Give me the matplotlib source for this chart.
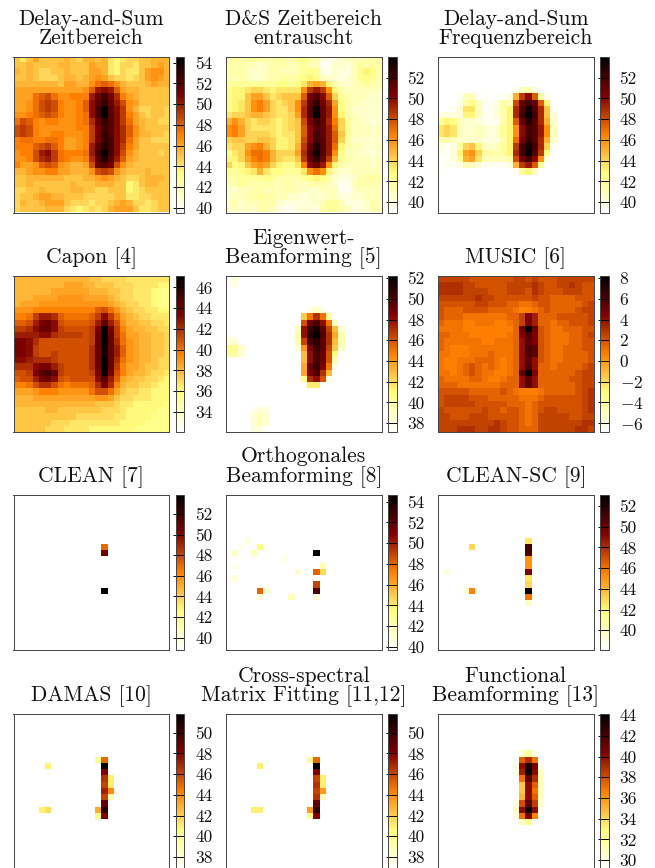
import numpy as np
import matplotlib
matplotlib.use("Agg")
import matplotlib.pyplot as plt

plt.rcParams['font.family'] = ['cmr10', 'DejaVu Serif']
plt.rcParams['mathtext.fontset'] = 'cm'
plt.rcParams['axes.unicode_minus'] = False
plt.rcParams['axes.formatter.use_mathtext'] = True

N_GRID = 25

titles = [
    "Delay-and-Sum\nZeitbereich", "D&S Zeitbereich\nentrauscht", "Delay-and-Sum\nFrequenzbereich",
    "Capon [4]", "Eigenwert-\nBeamforming [5]", "MUSIC [6]",
    "CLEAN [7]", "Orthogonales\nBeamforming [8]", "CLEAN-SC [9]",
    "DAMAS [10]", "Cross-spectral\nMatrix Fitting [11,12]", "Functional\nBeamforming [13]",
]

# colour range of each panel in dB
vmins = [39.55, 39.0, 39.0, 32.1, 37.2, -6.8, 38.8, 39.7, 38.1, 36.8, 36.8, 29.1]
vmaxs = [54.55, 54.0, 54.0, 47.1, 52.2, 8.2, 53.9, 54.7, 53.1, 51.8, 51.8, 44.1]

ticks = [
    [40, 42, 44, 46, 48, 50, 52, 54], [40, 42, 44, 46, 48, 50, 52], [40, 42, 44, 46, 48, 50, 52],
    [34, 36, 38, 40, 42, 44, 46], [38, 40, 42, 44, 46, 48, 50, 52], [-6, -4, -2, 0, 2, 4, 6, 8],
    [40, 42, 44, 46, 48, 50, 52], [40, 42, 44, 46, 48, 50, 52, 54], [40, 42, 44, 46, 48, 50, 52],
    [38, 40, 42, 44, 46, 48, 50], [38, 40, 42, 44, 46, 48, 50], [30, 32, 34, 36, 38, 40, 42, 44],
]

das_time = [
    [45, 44, 45, 46, 45, 45, 45, 45, 45.5, 45, 44.5, 45.5, 45.5, 45, 45.5, 44, 43.5, 44, 44.5, 44.5, 45, 45, 45.5, 45.5, 45.5],
    [45, 45, 45.5, 45, 45, 45, 45, 45.5, 45.5, 45, 45, 45, 46, 45.5, 45.5, 44, 43.5, 44.5, 44.5, 44, 45, 45, 45.5, 46, 45.5],
    [45.5, 45, 45.5, 45, 44.5, 44.5, 45, 45, 45.5, 45, 45, 45, 46, 46, 45.5, 44, 43.5, 44.5, 44, 44, 45, 46, 46.5, 46.5, 45.5],
    [45, 45, 45.5, 45, 44.5, 44.5, 44.5, 45, 45.5, 45.5, 45, 45.5, 46, 46.5, 46, 45, 44.5, 44.5, 44, 44.5, 45, 46, 46.5, 46, 45.5],
    [45.5, 45.5, 45.5, 45.5, 45.5, 45.5, 45.5, 45, 46, 46, 45.5, 45.5, 46.5, 47.5, 48, 47.5, 46.5, 45.5, 45, 45, 45, 45.5, 46, 45.5, 45.5],
    [46, 46, 46, 46, 46, 46, 46, 46, 46, 46, 46, 46.5, 48, 50, 50.5, 50, 48, 46, 45.5, 45.5, 45, 45, 45, 45, 45],
    [46, 46, 46, 47.5, 48, 48.5, 47.5, 46.5, 46.5, 47, 47, 47, 50, 51.5, 52.5, 51, 49.5, 47, 46, 45.5, 45, 45, 45, 45, 45],
    [46, 46, 46.5, 47.5, 48.5, 49, 48.5, 47, 46.5, 46.5, 47, 48, 50.5, 52, 53, 51.5, 50, 48.5, 46.5, 46, 45, 45, 45, 45, 45],
    [46, 46, 46.5, 47.5, 48.5, 49, 48.5, 47, 46.5, 46.5, 47, 48, 50.5, 52.5, 54.5, 52, 50.5, 49, 46.5, 45.5, 44.5, 44.5, 45, 45, 44.5],
    [46.5, 46.5, 47, 47.5, 48, 48.5, 48, 47, 46.5, 46.5, 47, 47.5, 50.5, 52.5, 54.5, 52, 50.5, 49, 47, 46, 45, 44.5, 45, 45, 44.5],
    [47.5, 48.5, 48, 47, 46.5, 47, 47, 46.5, 46.5, 46.5, 47, 47.5, 49.5, 51.5, 53, 52, 50.5, 49, 47.5, 46, 45.5, 45, 45, 44.5, 44.5],
    [48.5, 49, 48.5, 47, 46.5, 46.5, 46.5, 46.5, 46.5, 46.5, 47, 47, 49, 51, 52.5, 52, 50.5, 49.5, 48, 46.5, 45.5, 45, 45, 45, 45],
    [48.5, 49, 48.5, 47, 46.5, 46.5, 47, 47, 46.5, 46.5, 46.5, 47, 49, 51, 53, 52, 50.5, 49.5, 48, 46.5, 45.5, 45.5, 45, 45, 44.5],
    [47, 47.5, 47.5, 47, 47, 47.5, 47.5, 47, 46, 46, 46.5, 47, 49, 51, 53, 52.5, 50.5, 49.5, 47.5, 46, 45, 45, 44.5, 44.5, 44.5],
    [47, 47, 47, 48, 48.5, 49, 48, 47, 46, 46, 46.5, 47, 50, 52, 53.5, 52.5, 50.5, 49, 47, 46, 45, 45, 45, 45, 45],
    [46.5, 47, 47, 48.5, 50, 50.5, 49, 47.5, 47, 47, 47, 47.5, 50, 52.5, 54.5, 52.5, 50.5, 48.5, 46.5, 45.5, 45, 45, 45, 44.5, 45],
    [46.5, 46.5, 47, 48.5, 49.5, 50, 49, 47.5, 47, 46.5, 46.5, 47, 49.5, 52, 53.5, 52, 50, 48, 46, 45.5, 45, 45, 45, 45, 45],
    [47, 46, 46, 46.5, 48, 48.5, 48, 46.5, 46, 45.5, 45.5, 46, 48.5, 51.5, 52, 51, 48.5, 46.5, 45.5, 45, 45, 45, 45, 45, 45],
    [45.5, 45.5, 46, 46.5, 46.5, 47, 47, 46, 46, 45.5, 45.5, 45.5, 46.5, 48.5, 49, 48.5, 46.5, 45.5, 45, 45, 45, 45.5, 45, 45, 45],
    [45, 45, 45.5, 45.5, 45.5, 45.5, 45.5, 45.5, 45, 45, 45, 45.5, 45.5, 46, 46.5, 46, 45.5, 45, 44.5, 44.5, 45, 45.5, 45.5, 45.5, 45],
    [45, 45, 45.5, 45, 45, 45, 45, 45, 45, 45.5, 45, 45, 45, 45.5, 45.5, 45.5, 45, 45, 43.5, 44, 45, 45.5, 45.5, 45, 45],
    [44.5, 44.5, 45, 45, 45.5, 45, 45, 45, 45, 45.5, 45.5, 45, 45, 44.5, 44.5, 45, 45, 45, 43.5, 44, 44.5, 45, 45, 45, 45],
    [44.5, 45, 45, 45.5, 46, 46, 45.5, 45.5, 45, 45, 45, 44.5, 44.5, 44.5, 44.5, 44.5, 45, 45, 44, 44, 44.5, 44.5, 45, 45, 45],
    [44.5, 45.5, 45, 45, 45.5, 46, 46, 46, 45, 44.5, 44.5, 44.5, 44, 44.5, 44.5, 45, 45.5, 46, 45.5, 44.5, 44.5, 44, 44.5, 45, 45],
    [44.5, 45, 45, 45, 45, 45.5, 45.5, 45.5, 44.5, 44, 43.5, 44, 44.5, 44, 44.5, 45.5, 46, 46, 46, 45, 44, 44, 44.5, 45, 45],
]

das_denoised = [
    [41, 42, 41.5, 42, 42, 41.5, 41.5, 41.5, 42, 41.5, 41.5, 42, 42.5, 41.5, 41, 40, 39.5, 40, 40.5, 41, 41, 41, 41.5, 41.5, 41.5],
    [41.5, 41.5, 41.5, 41, 41, 40.5, 41, 41.5, 41.5, 41.5, 41, 41.5, 42, 41.5, 41, 39.5, 39.5, 40.5, 40.5, 40, 41, 42, 41.5, 42, 41.5],
    [41.5, 41.5, 41.5, 41, 40.5, 40.5, 41, 41.5, 41.5, 41, 41, 41.5, 42, 42.5, 42, 40, 39.5, 40.5, 40, 40, 41, 42, 43, 42.5, 41.5],
    [41.5, 41, 41.5, 41, 40.5, 40.5, 41, 41.5, 41.5, 42, 41.5, 42, 42.5, 43, 42.5, 41, 40.5, 40.5, 40, 40.5, 41, 42, 42.5, 42, 41.5],
    [42, 42, 42, 42, 42, 42, 42, 42, 42.5, 42.5, 42, 42.5, 43.5, 45, 45.5, 45, 43, 41.5, 40.5, 40.5, 41, 41.5, 42, 41.5, 41.5],
    [42.5, 43, 43, 43.5, 44, 44, 43.5, 43, 43.5, 43.5, 43.5, 43.5, 46, 48.5, 49.5, 48.5, 46, 43, 41.5, 41, 41, 41, 41, 41, 41],
    [42.5, 43, 43, 44.5, 45.5, 45.5, 44.5, 43.5, 44, 44.5, 44.5, 44.5, 47.5, 50.5, 51.5, 50, 47.5, 44, 42, 41.5, 41, 41, 41, 40.5, 40.5],
    [42.5, 43, 43.5, 44.5, 46, 46.5, 45.5, 44, 43.5, 44, 44.5, 46, 48.5, 51, 52.5, 50.5, 49, 45.5, 42.5, 41.5, 41, 41, 40.5, 40.5, 40.5],
    [42.5, 43, 43.5, 44.5, 46, 46.5, 45.5, 44, 43.5, 43.5, 44.5, 46, 49, 51.5, 53.5, 51, 49.5, 46, 42.5, 41.5, 40.5, 40.5, 40.5, 40.5, 40.5],
    [43.5, 44, 44, 44.5, 45, 45, 44.5, 44, 43.5, 43.5, 44, 45.5, 49, 51.5, 54, 51, 49.5, 46, 43, 41.5, 41, 40.5, 40.5, 40.5, 40.5],
    [45, 46, 45, 44, 43.5, 44, 44, 43.5, 43, 43.5, 44, 44.5, 48, 50.5, 52, 51, 49, 46.5, 44, 42, 41, 41, 40.5, 40, 40.5],
    [46, 46.5, 45.5, 44, 43.5, 43.5, 43.5, 43.5, 43, 43.5, 44, 44.5, 47.5, 50, 51.5, 51, 49.5, 47, 44, 42, 41, 41, 41, 40.5, 41],
    [46, 46.5, 45.5, 44, 44, 44, 44, 43.5, 43, 43.5, 43.5, 44.5, 47.5, 50, 52, 51, 49.5, 47.5, 44.5, 42, 41, 41, 41, 40.5, 41],
    [44, 44.5, 44.5, 44, 44, 44.5, 44.5, 44, 43, 43, 43.5, 44.5, 48, 50, 52, 51.5, 49.5, 47.5, 44, 41.5, 40.5, 40.5, 40.5, 40.5, 40.5],
    [43.5, 44, 44, 45.5, 46, 46.5, 45, 44, 43, 43, 43.5, 45, 48.5, 51, 53, 51.5, 49.5, 47, 43, 41.5, 41, 41, 40.5, 40.5, 41],
    [42.5, 43.5, 44, 46, 47, 47, 46.5, 45, 44, 44, 44, 45.5, 49, 51.5, 53.5, 51.5, 49.5, 46, 42.5, 41, 41, 40.5, 40.5, 40, 40.5],
    [43, 43, 44, 45.5, 46.5, 47, 46.5, 45, 44, 43.5, 43.5, 44.5, 48.5, 51, 52.5, 51, 48.5, 45, 42, 41.5, 41, 41, 41, 40.5, 41],
    [44, 42.5, 43, 44.5, 45.5, 46, 45.5, 44, 43, 42.5, 42.5, 43.5, 46.5, 50, 51, 49.5, 46, 43, 41.5, 41, 41, 41, 41, 40.5, 41],
    [42, 42, 42.5, 43, 43.5, 45, 43.5, 42.5, 42.5, 42, 42, 42, 43.5, 46, 47, 46, 43, 41.5, 40.5, 40.5, 41, 41, 41, 41, 41],
    [41.5, 41.5, 42, 42, 42, 42, 42.5, 42, 41.5, 41.5, 41.5, 41.5, 42, 42.5, 43, 42.5, 41.5, 40.5, 40, 40, 40.5, 41.5, 41.5, 42, 41.5],
    [41, 41.5, 42, 41.5, 41.5, 41.5, 41.5, 41.5, 41, 41.5, 41.5, 41, 41, 41.5, 41.5, 41.5, 41, 40.5, 39.5, 39.5, 41, 41.5, 41.5, 41.5, 41],
    [40.5, 40.5, 41, 41, 41.5, 41.5, 41, 41.5, 41, 41.5, 41.5, 41, 41, 40.5, 40.5, 41, 41, 41, 39.5, 39.5, 40.5, 41, 41, 41, 41],
    [40.5, 41, 41, 41.5, 41.5, 42, 41.5, 41.5, 41, 41, 40.5, 40.5, 40, 40.5, 40.5, 40.5, 41, 41, 40, 40, 40.5, 40.5, 41, 41, 41],
    [40.5, 41.5, 40.5, 41, 41, 41.5, 41.5, 41.5, 40.5, 40, 40, 40, 40, 40.5, 40.5, 41, 42, 42, 41, 40, 40, 40, 40.5, 41.5, 41],
    [40.5, 41, 40.5, 41, 40.5, 41.5, 41.5, 41, 40, 39.5, 39.5, 40, 40.5, 40, 40, 41.5, 42, 42, 41.5, 41, 40, 40, 40.5, 41.5, 41],
]

# rows 5-18, columns 0-18, 0 means below the colour range
das_freq_block = [
    [0, 0, 0, 0, 0, 0, 0, 0, 0, 0, 0, 0, 39.5, 41, 41.5, 40, 0, 0, 0],
    [0, 0, 0, 39.5, 41, 41, 39.5, 0, 0, 39.2, 39.5, 40, 45, 48.5, 50, 47.5, 42, 39.5, 0],
    [0, 0, 0, 40, 41.5, 42.5, 41, 39.5, 39.2, 40, 41.5, 41, 48, 51, 52, 51, 47.5, 43, 0],
    [0, 0, 39.5, 40.5, 43.5, 43.5, 41, 39.5, 39.5, 40, 41.5, 43, 49, 51.5, 53.5, 51.5, 49, 44.5, 39.5],
    [40, 40, 40, 40, 43, 43, 41, 39.5, 39.3, 40, 41.5, 43, 49, 52, 54, 52, 49, 44.5, 40],
    [42, 43, 42.5, 41, 40.5, 40.5, 40, 39.5, 39.3, 39.5, 41.5, 43, 47.5, 51, 53, 51.5, 49, 45, 40.5],
    [43.5, 44, 43.5, 41, 40.5, 40.5, 41, 40.5, 40, 40.5, 42, 43, 46, 50, 52, 51.5, 49.5, 46, 41],
    [43.5, 44, 43.5, 41, 40.5, 40.5, 41, 40.5, 40, 40.5, 42, 43, 46, 50, 52, 51.5, 49.5, 46, 41],
    [41.5, 41.5, 41, 40.5, 40.5, 40.5, 40.5, 40, 40, 40, 41.5, 43, 47, 50.5, 52.5, 51.5, 49, 45, 40.5],
    [40, 39.5, 40, 42, 44, 44.5, 43, 41, 40.5, 41, 42, 43, 48.5, 52, 53.5, 52, 49, 44, 39.5],
    [39.5, 39.3, 40, 43, 45.5, 46, 44, 42, 41.5, 41.5, 42, 43, 49, 52, 54, 51.5, 48.5, 42.5, 0],
    [0, 39.5, 40, 42, 45, 45.5, 43.5, 41, 41, 41, 41, 41.5, 48, 50.5, 52, 50, 46, 40, 0],
    [39.2, 39.5, 39.5, 39.8, 41, 41, 40, 39.5, 39.5, 39.5, 39.5, 40, 45, 48.5, 49.5, 47.5, 42, 0, 0],
    [39.2, 0, 0, 0, 0, 0, 0, 0, 0, 0, 0, 0, 39.5, 42, 43, 41, 0, 0, 0],
]

capon = [
    [38, 38, 38, 38, 38, 38, 38, 38, 38, 38, 38, 38, 37.5, 37.5, 37, 37, 37, 37, 36.5, 36.5, 36.5, 36.5, 36.5, 36.5, 36.5],
    [38, 38, 38, 38, 38, 38, 38, 38, 38.5, 38.5, 38.5, 38, 38, 37.5, 37.5, 37.5, 37, 37, 37, 36.5, 36.5, 36.5, 36.5, 36, 36],
    [38, 38, 38, 38, 38, 38, 38.5, 38.5, 38.5, 38.5, 38.5, 38.5, 38, 38, 38, 37.5, 37.5, 37, 37, 36.5, 36.5, 36.5, 36, 35.5, 35.5],
    [38, 38, 38, 38.5, 38.5, 38.5, 38.5, 39, 39, 39, 39, 38.5, 38.5, 38.5, 38.5, 38, 37.5, 37, 37, 36.5, 36.5, 36.5, 36, 35.5, 35.5],
    [38, 38.5, 38.5, 38.5, 39, 39, 39, 39, 39, 39, 39, 39, 39, 39, 39, 38.5, 38, 37.5, 37, 37, 36.5, 36.5, 36, 35.5, 35.5],
    [39, 39, 39, 39.5, 39.5, 39.5, 39.5, 39.5, 39.5, 39.5, 39.5, 39.5, 39.5, 40.5, 41, 40, 39, 38, 37.5, 37, 37, 36.5, 36.5, 36, 36],
    [39.5, 39.5, 40, 41.5, 42.5, 42.5, 42, 40.5, 40, 40, 40, 40, 40.5, 41.5, 43, 41.5, 40, 38.5, 38, 37.5, 37, 37, 36.5, 36.5, 36.5],
    [40.5, 40.5, 41, 42.5, 43.5, 44, 43, 41, 40.5, 40.5, 40.5, 40.5, 41, 42.5, 44.5, 42.5, 41, 39, 38, 38, 37.5, 37.5, 37, 37, 36.5],
    [41.5, 41.5, 42, 43, 44, 44, 43, 41.5, 41, 41, 41, 41, 41.5, 43.5, 47, 43.5, 41.5, 39.5, 38.5, 38, 38, 37.5, 37.5, 37, 37],
    [42.5, 42.5, 42.5, 42.5, 43, 43, 42, 41.5, 41.5, 41.5, 41.5, 41, 41.5, 44, 47, 44, 41.5, 40, 38.5, 38.5, 38, 38, 37.5, 37.5, 37],
    [43.5, 43.5, 43, 42, 41, 41, 41, 41, 41, 41, 41, 41, 41.5, 44, 47, 44, 42, 40, 39, 38.5, 38, 38, 37.5, 37.5, 37],
    [43.5, 43.5, 43, 41.5, 41, 41, 41, 41, 41, 41, 41, 41, 42, 44, 46.5, 44, 42.5, 40.5, 39, 38.5, 38, 38, 37.5, 37.5, 37],
    [43.5, 43.5, 43, 41.5, 41, 41, 41.5, 41, 41, 41, 41, 41, 42, 44, 46.5, 44, 42.5, 40.5, 39, 38.5, 38, 38, 37.5, 37.5, 37],
    [43, 43, 42.5, 42, 42, 42, 41.5, 41, 41, 41, 41, 41, 42, 44, 47, 44, 42, 40, 39, 38.5, 38, 38, 37.5, 37, 37],
    [42, 42, 42, 43, 43.5, 43.5, 42.5, 41.5, 41, 41, 41, 41, 42, 44, 47, 44, 41.5, 39.5, 38.5, 38.5, 38, 37.5, 37.5, 37, 37],
    [41, 41, 41.5, 43.5, 44.5, 45, 44, 41.5, 41, 41, 41, 41, 41.5, 43.5, 47, 43.5, 41, 39.5, 38.5, 38, 38, 37.5, 37, 37, 36.5],
    [40.5, 41, 41, 42.5, 43.5, 44, 43, 41, 40.5, 41, 41, 41, 41, 43, 44.5, 42.5, 40.5, 38.5, 38, 37.5, 37.5, 37, 37, 36.5, 36],
    [39.5, 39.5, 40, 41, 42, 42, 41, 40, 39.5, 40, 40, 40, 40.5, 42, 43.5, 42, 39.5, 38, 37.5, 37.5, 37, 37, 36.5, 36, 36],
    [38.5, 38.5, 38.5, 39, 39.5, 39.5, 39.5, 39, 39, 39, 39, 39, 40, 41, 41, 40, 38.5, 37.5, 37, 37, 36.5, 36.5, 36, 36, 36],
    [38, 38, 38, 38.5, 38.5, 38.5, 38.5, 38.5, 38.5, 38.5, 38.5, 38.5, 38.5, 39, 39, 38.5, 37.5, 37, 37, 36.5, 36.5, 36.5, 36, 36, 36],
    [38, 38, 38, 38, 38, 38, 38, 38, 38, 38, 38, 38, 38, 37.5, 37.5, 37.5, 37, 36.5, 36.5, 36, 36, 36, 36, 36, 35.5],
    [37.5, 37.5, 37.5, 37.5, 37.5, 38, 38, 37.5, 37.5, 37.5, 37.5, 37.5, 37.5, 37.5, 37, 37, 37, 36.5, 36, 36, 36, 36, 36, 35.5, 35.5],
    [37.5, 37.5, 37.5, 37.5, 37.5, 37.5, 37.5, 37.5, 37.5, 37.5, 37, 37, 37, 37, 37, 37, 36.5, 36.5, 36, 36, 36, 36, 35.5, 35.5, 35.5],
    [37.5, 37.5, 37.5, 37.5, 37.5, 37.5, 37, 37, 37, 36.5, 36.5, 36.5, 36.5, 36.5, 36.5, 36.5, 36.5, 36, 36, 36, 36, 35.5, 35.5, 35.5, 35.5],
    [37.5, 37.5, 37.5, 37.5, 37.5, 37, 37, 37, 36.5, 36.5, 36.5, 36.5, 36, 36, 36, 36, 36, 36, 36, 35.5, 35.5, 35.5, 35.5, 35.5, 35.5],
]

# rows 5-17, columns 11-18
eigen_block = [
    [0, 0, 38, 39, 38, 0, 0, 0],
    [0, 42.5, 45, 47, 45, 40, 0, 0],
    [0, 46, 49, 50, 48, 45, 39, 0],
    [39, 48, 50.5, 51.5, 49.5, 46.5, 43, 38.5],
    [40, 48, 51, 52.2, 50, 47, 43.5, 39.5],
    [39.5, 46.5, 50, 51, 49.5, 47, 43, 39.5],
    [38.5, 44, 48.5, 50.5, 49.5, 46.5, 42.5, 39],
    [0, 43, 48, 50, 49, 46, 41, 0],
    [0, 43, 48, 50, 49, 46, 39.5, 0],
    [0, 43.5, 49, 50.5, 48.5, 45, 38, 0],
    [0, 43.5, 48.5, 50, 47, 43, 0, 0],
    [0, 40.5, 47, 48, 46, 38, 0, 0],
    [0, 0, 41.5, 41.5, 0, 0, 0, 0],
]
eigen_rows = [0, 1, 10, 10, 11, 11, 11, 12, 12, 12, 21, 21, 21, 22, 22, 22, 22, 23, 23, 23, 24, 24]
eigen_cols = [1, 1, 0, 1, 0, 1, 2, 0, 1, 2, 4, 5, 6, 3, 4, 5, 6, 4, 5, 6, 4, 5]
eigen_vals = [38.5, 38, 38.3, 38.5, 40.5, 40.5, 38.5, 40, 40, 38.5, 37.8, 38.5, 38, 37.5, 38.5, 39.2, 38.5, 38.7, 39.2, 38.6, 38.3, 38.3]

music = [
    [2.5, 2.5, 2.5, 2.5, 2.5, 2, 2, 2, 2, 2, 2, 2, 2.5, 2.5, 2, 2.5, 2, 2, 2, 2.5, 2.5, 2.5, 2.5, 2.5, 2.5],
    [3, 3, 3, 3, 2.5, 2.5, 2, 2, 2, 2, 2, 2.5, 2.5, 2.5, 2.5, 3, 2.5, 2, 2, 2.5, 2.5, 3, 2.5, 2, 2],
    [3, 3, 3, 3, 2.5, 2.5, 2.5, 2.5, 2, 2, 2, 2.5, 2.5, 2.5, 2, 3, 2.5, 2, 2, 2, 2.5, 2.5, 2.5, 2, 2],
    [2.5, 2.5, 2.5, 2.5, 2.5, 2.5, 3, 2.5, 2.5, 2, 2, 2, 2, 2, 2, 2.5, 2, 2, 1.5, 1.5, 1.5, 1.5, 2, 2, 2],
    [2, 2, 2, 2, 2, 2, 2.5, 2.5, 2, 2, 2, 1.5, 1.5, 1, 1, 1.5, 2, 2, 1.5, 1.5, 1.5, 1.5, 1.5, 2, 2.5],
    [2, 1.5, 1.5, 1.5, 2, 2, 2, 2, 1.5, 1.5, 1.5, 1.5, 1, 0.5, 0.7, 1, 1.5, 2, 1.5, 1.5, 1.5, 1.5, 2, 2.5, 2.5],
    [2, 1.5, 1.5, 1.5, 1, 1, 1, 1, 1, 1, 1, 1.5, 1.5, 2.5, 4.5, 3.5, 1.5, 1.5, 1.5, 2, 2, 2, 2, 2, 2.5],
    [1.5, 1, 1, 1, 0.7, 0.7, 1, 1, 1, 0.7, 0.7, 1, 1.5, 2.5, 4.5, 3.5, 1.5, 1.5, 1, 1.5, 1.5, 2, 2, 2, 2.5],
    [1, 1, 1, 1, 0.7, 0.7, 0.7, 0.7, 0.7, 0.7, 0.7, 0.7, 1.5, 5, 8, 5, 2, 1.5, 1, 1, 1.5, 1.5, 1.5, 2, 2],
    [1.5, 1.5, 1, 1, 1, 0.7, 0.7, 0.7, 0.7, 0.7, 0.7, 1, 1.5, 4.5, 6, 4.5, 2, 1.5, 1, 1, 1, 1.5, 1.5, 2, 2.5],
    [1.5, 1, 1, 1, 1, 1, 1, 0.7, 0.7, 1, 1, 1, 1.5, 4, 5.5, 4.5, 2, 1.5, 1, 1, 1, 1.5, 1.5, 2, 2],
    [1.5, 1, 0.7, 0.7, 0.7, 1, 1, 1, 1, 1, 1, 1, 1.5, 4, 6, 5.5, 2, 1.5, 1, 1, 1.5, 1.5, 1.5, 2, 2],
    [1, 1, 0.7, 0.7, 0.7, 1, 1, 1, 1.5, 1, 1, 1, 1.5, 4, 6, 5.5, 2, 1.5, 1, 1, 1.5, 1.5, 1.5, 1.5, 2],
    [1, 0.7, 0.7, 1, 1, 1, 1.5, 1.5, 1.5, 1, 0.7, 1, 1.5, 4, 5.5, 4, 2, 1.5, 1, 1, 1.5, 1.5, 1.5, 1.5, 2],
    [1, 0.7, 0.7, 1, 1.5, 2, 1.5, 1, 1.5, 1, 0.7, 1, 1.5, 4, 6, 4, 1.5, 1.5, 1, 1.5, 1.5, 1.5, 1.5, 2, 2.5],
    [1, 1, 0.7, 1, 1.5, 2, 1.5, 1, 1, 0.7, 0.7, 1, 1.5, 5.5, 8, 4.5, 1.5, 1.5, 1.5, 1.5, 1.5, 1.5, 2, 2.5, 2.5],
    [1.5, 1, 1, 1, 1, 1.5, 1.5, 1, 0.7, 0.7, 1, 1.5, 1.5, 4, 5.5, 4, 1.5, 1.5, 1.5, 1.5, 1.5, 2, 2, 2.5, 2.5],
    [1.5, 1.5, 1.5, 1, 1, 1, 1, 1, 1, 1, 1.5, 1.5, 1.5, 4, 5.5, 4, 1.5, 1.5, 1.5, 1.5, 1.5, 1.5, 2, 2.5, 2.5],
    [2, 2, 2, 2, 2, 1.5, 1.5, 1.5, 1.5, 1.5, 2, 1.5, 1, 0.7, 0.7, 0.7, 1, 1.5, 1.5, 1.5, 1.5, 1.5, 2, 2.5, 3],
    [2, 2.5, 2.5, 2.5, 2.5, 2, 2, 2, 1.5, 1.5, 1.5, 1.5, 1.5, 1, 1, 1, 1.5, 2, 2, 2, 2, 2, 2, 2.5, 3],
    [2, 2.5, 2.5, 2.5, 2.5, 2.5, 2, 2, 2, 2, 2, 1.5, 1.5, 1.5, 1, 1.5, 2, 2, 2, 2, 2, 2, 2, 2.5, 3],
    [2.5, 2, 2, 2, 2, 2, 2, 2.5, 2, 2, 1.5, 2, 2, 1.5, 1, 1.5, 2, 2.5, 2.5, 2, 2, 2, 2, 2.5, 3],
    [2.5, 2.5, 2, 2, 2, 2.5, 2.5, 2.5, 2, 2, 2, 2, 2, 1.5, 1, 1.5, 2.5, 2.5, 2.5, 2.5, 2.5, 2, 2, 2.5, 2.5],
    [2.5, 2.5, 2.5, 2.5, 2.5, 2.5, 2.5, 2.5, 2.5, 3, 2.5, 2, 2, 1.5, 1, 1.5, 2.5, 2.5, 2.5, 2.5, 2.5, 2.5, 2.5, 3, 3],
    [2.5, 2.5, 2.5, 3, 3, 3, 2.5, 2.5, 3, 3, 2.5, 2, 2, 1.5, 1.5, 1.5, 2.5, 2.5, 2.5, 2.5, 2.5, 2.5, 3, 3, 2.5],
]

clean_rows = [8, 9, 15]
clean_cols = [14, 14, 14]
clean_vals = [47, 50.5, 53.9]

ortho_rows = [9, 12, 12, 11, 14, 15, 16, 8, 9, 9, 7, 8, 11, 13, 15, 15, 16, 10, 12, 16]
ortho_cols = [14, 14, 15, 15, 14, 14, 14, 5, 4, 1, 3, 2, 1, 1, 5, 6, 5, 9, 11, 10]
ortho_vals = [54.7, 48, 44.5, 42, 49, 52.5, 41, 43.5, 42, 41.5, 40.5, 40.2, 40.3, 41, 48, 41, 40.8, 40.5, 41, 41.8]

cleansc_rows = [7, 8, 9, 10, 11, 12, 13, 14, 15, 16, 17, 8, 15, 15, 12]
cleansc_cols = [14, 14, 14, 14, 14, 14, 14, 14, 14, 14, 14, 5, 5, 4, 1]
cleansc_vals = [42.5, 51, 51, 45, 45, 49.5, 42.5, 43, 53, 46, 40, 43, 45.5, 39.5, 39.2]

damas_rows = [7, 8, 9, 10, 11, 12, 13, 14, 15, 16, 7, 15, 16, 10, 11, 12, 13, 8, 15, 15]
damas_cols = [14, 14, 14, 14, 14, 14, 14, 14, 14, 14, 13, 13, 13, 15, 15, 15, 15, 5, 4, 5]
damas_vals = [45, 51.8, 48, 46.5, 46, 47, 46, 49, 50.5, 48, 40, 43, 40.5, 41, 41, 44, 39, 41, 41, 41.5]

cmf_rows = [7, 8, 9, 10, 11, 12, 13, 14, 15, 16, 7, 15, 16, 10, 11, 12, 13, 8, 15, 15]
cmf_cols = [14, 14, 14, 14, 14, 14, 14, 14, 14, 14, 13, 13, 13, 15, 15, 15, 15, 5, 4, 5]
cmf_vals = [45, 51.8, 48, 46, 46.5, 46, 46.5, 49, 50.5, 48, 40, 43.5, 40, 41, 41, 43.5, 38.5, 41, 41, 41]

# rows 6-17, columns 12-16
functional_block = [
    [0, 30.5, 32, 30, 0],
    [0, 37.5, 39, 37, 0],
    [30, 40, 43.5, 40.5, 30],
    [30, 39.5, 44, 40, 31],
    [0, 37, 41.5, 39, 31],
    [0, 34.5, 40, 37.5, 31],
    [0, 34.5, 40, 37, 31],
    [0, 35, 40, 37.5, 31],
    [30, 38, 41.5, 38.5, 30.5],
    [31, 40, 44, 40, 30],
    [30, 37, 40.5, 36.5, 0],
    [0, 31, 32.5, 0, 0],
]


def from_points(floor, rows, cols, vals):
    grid = np.full((N_GRID, N_GRID), floor, dtype=float)
    grid[rows, cols] = vals
    return grid


def add_block(grid, top, left, block):
    block = np.array(block, dtype=float)
    sub = grid[top:top + block.shape[0], left:left + block.shape[1]]
    sub[block > 0] = block[block > 0]
    return grid


maps = [
    np.array(das_time),
    np.array(das_denoised),
    add_block(np.full((N_GRID, N_GRID), vmins[2]), 5, 0, das_freq_block),
    np.array(capon),
    add_block(from_points(vmins[4], eigen_rows, eigen_cols, eigen_vals), 5, 11, eigen_block),
    np.array(music),
    from_points(vmins[6], clean_rows, clean_cols, clean_vals),
    from_points(vmins[7], ortho_rows, ortho_cols, ortho_vals),
    from_points(vmins[8], cleansc_rows, cleansc_cols, cleansc_vals),
    from_points(vmins[9], damas_rows, damas_cols, damas_vals),
    from_points(vmins[10], cmf_rows, cmf_cols, cmf_vals),
    add_block(np.full((N_GRID, N_GRID), vmins[11]), 6, 12, functional_block),
]

W, H = 655, 868
fig = plt.figure(figsize=(W / 100, H / 100), dpi=100)

# panel layout in pixels
col_left = [13.5, 226, 438]
row_top = [57, 276, 494.5, 714]
panel_size = 155.5


def px_axes(x, y, w, h):
    return fig.add_axes([x / W, 1 - (y + h) / H, w / W, h / H])


for i in range(12):
    x = col_left[i % 3]
    y = row_top[i // 3]
    ax = px_axes(x, y, panel_size, panel_size)
    im = ax.imshow(maps[i], cmap='afmhot_r', vmin=vmins[i], vmax=vmaxs[i],
                   interpolation='nearest', aspect='auto')
    ax.set_xticks([])
    ax.set_yticks([])
    for s in ax.spines.values():
        s.set_linewidth(0.7)
        s.set_color('#444444')
    ax.set_title(titles[i], fontsize=15.5, pad=9, linespacing=0.98, color='#111111')

    cax = px_axes(x + 162, y, 8.5, panel_size)
    cb = fig.colorbar(im, cax=cax)
    labels = [f"${t}$" if t < 0 else str(t) for t in ticks[i]]
    cb.set_ticks(ticks[i], labels=labels)
    cb.ax.tick_params(direction='in', length=8, width=0.7, pad=8, labelsize=12.5,
                      labelcolor='#111111')
    cb.outline.set_linewidth(0.7)
    cb.outline.set_edgecolor('#444444')

fig.savefig('out.png', dpi=100)
